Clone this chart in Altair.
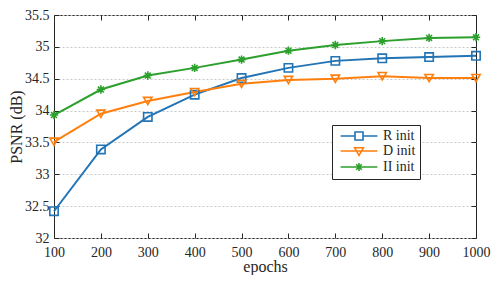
import altair as alt
import pandas as pd

epochs = [100, 200, 300, 400, 500, 600, 700, 800, 900, 1000]
r_init = [32.42, 33.39, 33.90, 34.25, 34.51, 34.67, 34.78, 34.82, 34.84, 34.86]
d_init = [33.51, 33.95, 34.15, 34.29, 34.42, 34.48, 34.50, 34.54, 34.51, 34.51]
ii_init = [33.93, 34.33, 34.55, 34.67, 34.80, 34.94, 35.03, 35.09, 35.14, 35.15]
series_names = ["R init", "D init", "II init"]
colors = ["#2274b5", "#ff7f0e", "#2ca02c"]
x_ticks = [100, 200, 300, 400, 500, 600, 700, 800, 900, 1000]
y_ticks = [32, 32.5, 33, 33.5, 34, 34.5, 35, 35.5]

rows = []
for name, vals in zip(series_names, [r_init, d_init, ii_init]):
    for e, v in zip(epochs, vals):
        rows.append({"epochs": e, "PSNR": v, "series": name})
df = pd.DataFrame(rows)

W, H = 422, 223
FONT = "Liberation Serif"
TXT = "#262626"

xscale = alt.Scale(domain=[100, 1000], nice=False, zero=False)
yscale = alt.Scale(domain=[32, 35.5], nice=False, zero=False)
cscale = alt.Scale(domain=series_names, range=colors)

asterisk = "M0,-1V1M-1,0H1M-0.7,-0.7L0.7,0.7M-0.7,0.7L0.7,-0.7"
plain_shapes = ["square", "triangle-down", asterisk]
legend_shapes = [
    "M-4.6,0H-1M1,0H4.6M-1,-1H1V1H-1Z",
    "M-4.6,0H4.6M-1.1,-0.8H1.1L0,1.1Z",
    "M-4.6,0H4.6" + asterisk,
]

base = alt.Chart(df)

lines = base.mark_line(strokeWidth=2).encode(
    x=alt.X("epochs:Q", scale=xscale, title="epochs",
            axis=alt.Axis(orient="bottom", values=x_ticks, format="d", ticks=False,
                          labelFlush=False, domain=False, grid=False,
                          labelPadding=7, titleBaseline="alphabetic",
                          titleX=W / 2, titleY=33)),
    y=alt.Y("PSNR:Q", scale=yscale, title="PSNR (dB)",
            axis=alt.Axis(orient="left", values=y_ticks, format="~g", ticks=False,
                          labelFlush=False, domain=False, grid=True, labelPadding=5,
                          titleX=-30, titleY=H / 2)),
    color=alt.Color("series:N", scale=cscale, legend=None),
    detail="series:N",
)

points = base.mark_point(filled=False, size=70, opacity=1).encode(
    x=alt.X("epochs:Q", scale=xscale, title="",
            axis=alt.Axis(orient="top", offset=-H, values=x_ticks, labels=False,
                          ticks=True, tickSize=5, domain=False, grid=False)),
    y=alt.Y("PSNR:Q", scale=yscale, title="",
            axis=alt.Axis(orient="right", offset=-W, values=y_ticks, labels=False,
                          ticks=True, tickSize=5, domain=False, grid=False)),
    color=alt.Color("series:N", scale=cscale, legend=None),
    shape=alt.Shape("series:N", scale=alt.Scale(domain=series_names, range=plain_shapes),
                    legend=None),
    strokeWidth=alt.StrokeWidth("series:N",
                                scale=alt.Scale(domain=series_names, range=[1.6, 1.6, 2.4]),
                                legend=None),
)

legend_layer = base.mark_point(filled=False, size=64, strokeWidth=1.6, opacity=0).encode(
    x=alt.X("epochs:Q", scale=xscale, title="",
            axis=alt.Axis(orient="bottom", offset=-H, values=x_ticks, labels=False,
                          ticks=True, tickSize=5, domain=False, grid=False)),
    y=alt.Y("PSNR:Q", scale=yscale, title="",
            axis=alt.Axis(orient="left", offset=-W, values=y_ticks, labels=False,
                          ticks=True, tickSize=5, domain=False, grid=False)),
    color=alt.Color("series:N", scale=cscale, title=None,
                    legend=alt.Legend(orient="none", legendX=278, legendY=110)),
    shape=alt.Shape("series:N", scale=alt.Scale(domain=series_names, range=legend_shapes),
                    title=None,
                    legend=alt.Legend(orient="none", legendX=278, legendY=110)),
)

chart = alt.layer(lines, points, legend_layer).resolve_axis(
    x="independent", y="independent"
).resolve_scale(
    shape="independent", color="independent"
).properties(
    width=W, height=H,
    autosize=alt.AutoSizeParams(type="none"),
    padding={"left": 46, "top": 7, "right": 15, "bottom": 37},
).configure_view(
    stroke=TXT, strokeWidth=1
).configure_axis(
    labelFont=FONT, labelFontSize=14, labelColor=TXT,
    titleFont=FONT, titleFontSize=16, titleColor=TXT, titleFontWeight="normal",
    tickColor=TXT, tickWidth=1,
    gridColor="#c8c8c8", gridDash=[2, 2], gridWidth=1,
).configure_legend(
    labelFont=FONT, labelFontSize=14, labelColor=TXT,
    strokeColor=TXT, fillColor="white", padding=4, cornerRadius=0,
    symbolOpacity=1, symbolStrokeWidth=1.6, symbolSize=64,
    symbolOffset=16, labelOffset=17, rowPadding=0,
)

chart.save("out.html", embed_options={"renderer": "svg", "actions": False})
